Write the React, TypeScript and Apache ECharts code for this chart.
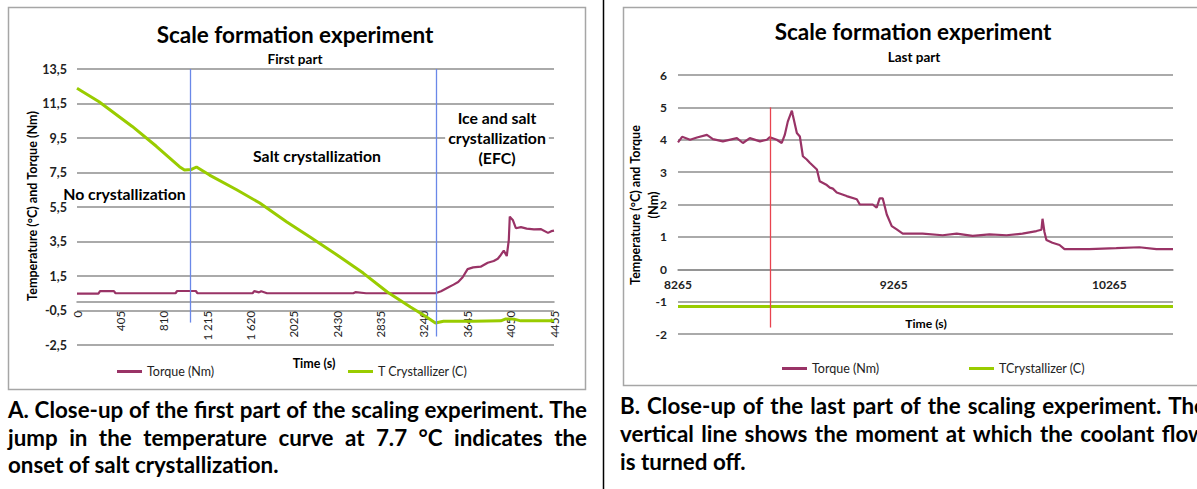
import React, { useEffect, useRef } from 'react';
import * as echarts from 'echarts';

const W = 1197;
const H = 489;

// ---- Part A: first part of the scaling experiment ----
const firstTicks = ['0', '405', '810', '1 215', '1 620', '2025', '2430', '2835', '3240', '3645', '4050', '4455'];

const firstTempTime = [0, 206, 516, 741, 957, 1004, 1069, 1116, 1238, 1491, 1707, 1960, 2176, 2429, 2673, 2898, 3114, 3236, 3348, 3423, 3700, 3958, 4005, 4080, 4145, 4455];
const firstTemp = [12.38, 11.6, 10.17, 9.02, 7.84, 7.65, 7.68, 7.82, 7.35, 6.5, 5.73, 4.63, 3.76, 2.72, 1.67, 0.57, -0.3, -0.76, -1.22, -1.12, -1.12, -1.1, -0.99, -1.0, -1.1, -1.1];

const firstTorqueTime = [0, 200, 215, 345, 360, 920, 935, 1110, 1125, 1640, 1655, 1700, 1720, 1775, 2580, 2600, 2700, 3348, 3400, 3461, 3517, 3560, 3602, 3648, 3700, 3770, 3836, 3892, 3930, 3958, 3986, 4014, 4033, 4042, 4055, 4070, 4099, 4146, 4200, 4268, 4330, 4399, 4430, 4455];
const firstTorque = [0.48, 0.48, 0.62, 0.62, 0.5, 0.5, 0.63, 0.63, 0.5, 0.5, 0.62, 0.55, 0.62, 0.5, 0.5, 0.56, 0.5, 0.5, 0.62, 0.82, 1.0, 1.15, 1.43, 1.9, 2.0, 2.04, 2.27, 2.37, 2.5, 2.72, 2.97, 2.66, 3.6, 4.94, 4.85, 4.75, 4.27, 4.33, 4.25, 4.2, 4.22, 4.0, 4.1, 4.13];

// phase boundaries (s) and where each marker line stops (°C)
const phaseBoundaries = [1060, 3358];
const phaseLineBottoms = [-1.2, -2.0];

// ---- Part B: last part of the scaling experiment ----
const lastTorqueTime = [8265, 8284, 8321, 8353, 8399, 8427, 8473, 8538, 8566, 8598, 8645, 8677, 8691, 8723, 8746, 8760, 8774, 8793, 8797, 8816, 8830, 8844, 8862, 8876, 8909, 8922, 8955, 8969, 8983, 9001, 9047, 9094, 9108, 9168, 9186, 9200, 9214, 9233, 9256, 9279, 9307, 9399, 9492, 9557, 9631, 9709, 9788, 9862, 9927, 9950, 9955, 9964, 9973, 10001, 10034, 10057, 10172, 10297, 10404, 10483, 10560];
const lastTorque = [3.92, 4.09, 4.0, 4.07, 4.15, 4.02, 3.95, 4.05, 3.9, 4.05, 3.95, 4.0, 4.08, 4.0, 3.9, 4.15, 4.56, 4.9, 4.77, 4.21, 4.1, 3.49, 3.39, 3.29, 3.08, 2.72, 2.6, 2.52, 2.49, 2.37, 2.26, 2.16, 2.0, 2.0, 1.9, 2.19, 2.19, 1.69, 1.33, 1.23, 1.1, 1.1, 1.05, 1.1, 1.03, 1.08, 1.05, 1.1, 1.18, 1.22, 1.56, 1.15, 0.9, 0.82, 0.75, 0.62, 0.62, 0.65, 0.68, 0.62, 0.62];

const lastTempTime = [8265, 10560];
const lastTemp = [-1.15, -1.15];

const coolantOffTime = 8691;

// ---- captions ----
const captionA = [
  'A. Close-up of the first part of the scaling experiment. The',
  'jump in the temperature curve at 7.7 °C indicates the',
  'onset of salt crystallization.',
];
const captionB = [
  'B. Close-up of the last part of the scaling experiment. The',
  'vertical line shows the moment at which the coolant flow',
  'is turned off.',
];

const FONT = 'Lato, "Open Sans", sans-serif';
const TORQUE = '#993366';
const LIME = '#99cc00';
const GRIDC = '#8e8e8e';
const FRAME = '#a6a6a6';
const BLUE = '#6a88e8';
const RED = '#e8434f';

const pairs = (xs: number[], ys: number[]) => xs.map((x, i) => [x, ys[i]]);

function txt(x: number, y: number, text: string, size: number, weight: string, extra: any = {}) {
  return {
    type: 'text',
    x,
    y,
    z: 50,
    silent: true,
    ...extra,
    style: {
      text,
      fill: '#000',
      fontSize: size,
      fontWeight: weight,
      fontFamily: FONT,
      align: 'center',
      verticalAlign: 'middle',
      ...(extra.style || {}),
    },
  };
}

// grid geometry
const gridA = { left: 77, top: 69, width: 477, height: 276 };
const gridB = { left: 678, top: 75, width: 495, height: 259 };
const yA = { min: -2.5, max: 13.5, interval: 2 };
const yB = { min: -2, max: 6, interval: 1 };
// shift of the time axis from the grid bottom up to the zero line
const zeroOffset = (g: { height: number }, y: { min: number; max: number }) =>
  -((0 - y.min) / (y.max - y.min)) * g.height;

export default function App() {
  const ref = useRef<HTMLDivElement>(null);

  useEffect(() => {
    const chart = echarts.init(ref.current!, null, { renderer: 'svg' });

    const ctx = document.createElement('canvas').getContext('2d')!;
    const measure = (s: string, size: number) => {
      ctx.font = `bold ${size}px Lato`;
      return ctx.measureText(s).width;
    };
    const colWidth = 579;
    const capSize = (20 * (colWidth - 3)) / measure(captionA[0], 20);

    const capLine = (text: string, x: number, y: number) =>
      txt(x, y, text, capSize, 'bold', { style: { align: 'left' } });

    // justified line: words spread across the given width
    const justified = (text: string, x: number, y: number, width: number) => {
      const words = text.split(' ');
      const widths = words.map((w) => measure(w, capSize));
      const total = widths.reduce((a, b) => a + b, 0);
      const gap = (width - total) / (words.length - 1);
      let cx = x;
      return words.map((w, i) => {
        const el = txt(cx, y, w, capSize, 'bold', { style: { align: 'left' } });
        cx += widths[i] + gap;
        return el;
      });
    };

    const graphics: any[] = [
      { type: 'rect', shape: { x: 8.5, y: 7.5, width: 577, height: 382 }, style: { fill: 'none', stroke: FRAME, lineWidth: 1.5 }, silent: true },
      { type: 'rect', shape: { x: 623.5, y: 7.5, width: 640, height: 378 }, style: { fill: 'none', stroke: FRAME, lineWidth: 1.5 }, silent: true },
      { type: 'line', shape: { x1: 603.5, y1: 0, x2: 603.5, y2: H }, style: { stroke: '#000', lineWidth: 1.5 }, silent: true },

      // titles
      txt(295, 34, 'Scale formation experiment', 22.5, 'bold'),
      txt(295, 59, 'First part', 13.5, 'bold'),
      txt(913, 31, 'Scale formation experiment', 22.5, 'bold'),
      txt(914, 57, 'Last part', 13.5, 'bold'),

      // phase annotations
      txt(124.5, 193, 'No crystallization', 15.8, 'bold'),
      txt(317, 155, 'Salt crystallization', 15.8, 'bold'),
      txt(497, 137, 'Ice and salt\ncrystallization\n(EFC)', 15.8, 'bold', {
        style: { lineHeight: 20, backgroundColor: '#fff', padding: [0, 3] },
      }),

      // axis titles
      txt(32, 206, 'Temperature (°C) and Torque (Nm)', 12.6, 'bold', { rotation: Math.PI / 2 }),
      txt(314, 363, 'Time (s)', 12.5, 'bold'),
      txt(644, 205, 'Temperature (°C) and Torque\n(Nm)', 12.6, 'bold', {
        rotation: Math.PI / 2,
        style: { lineHeight: 18 },
      }),
      txt(926, 323, 'Time (s)', 12.2, 'bold'),

      // captions
      ...justified(captionA[0], 8, 409, colWidth),
      ...justified(captionA[1], 8, 437, colWidth),
      capLine(captionA[2], 8, 464),
      ...justified(captionB[0], 620, 405, 586),
      ...justified(captionB[1], 620, 433, 586),
      capLine(captionB[2], 620, 461),
    ];

    const legendBase = {
      orient: 'horizontal',
      icon: 'rect',
      itemWidth: 25,
      itemHeight: 3,
      selectedMode: false,
      padding: 0,
      textStyle: { fontSize: 12.5, color: '#222', fontFamily: FONT },
    };

    const tickLabel = { fontFamily: FONT, color: '#222', fontWeight: 'bold' };

    const option: any = {
      animation: false,
      backgroundColor: '#fff',
      grid: [gridA, gridB],
      xAxis: [
        {
          type: 'value',
          gridIndex: 0,
          min: 0,
          max: 4455,
          interval: 405,
          offset: zeroOffset(gridA, yA),
          axisLine: { show: true, onZero: false, lineStyle: { color: GRIDC, width: 1.5 } },
          axisTick: { show: false },
          splitLine: { show: false },
          axisLabel: {
            ...tickLabel,
            fontWeight: 'normal',
            fontSize: 11.5,
            rotate: 90,
            margin: 9,
            formatter: (v: number) => firstTicks[Math.round(v / 405)] ?? '',
          },
        },
        {
          type: 'value',
          gridIndex: 1,
          min: 8265,
          max: 10560,
          interval: 1000,
          offset: zeroOffset(gridB, yB),
          axisLine: { show: true, onZero: false, lineStyle: { color: GRIDC, width: 1.5 } },
          axisTick: { show: false },
          splitLine: { show: false },
          axisLabel: {
            ...tickLabel,
            fontSize: 12,
            margin: 9,
            showMaxLabel: false,
            formatter: (v: number) => String(v),
          },
        },
      ],
      yAxis: [
        {
          type: 'value',
          gridIndex: 0,
          ...yA,
          axisLine: { show: false },
          axisTick: { show: false },
          splitLine: { show: true, lineStyle: { color: GRIDC, width: 1.5 } },
          axisLabel: {
            ...tickLabel,
            fontSize: 12.5,
            margin: 10,
            formatter: (v: number) => String(v).replace('.', ','),
          },
        },
        {
          type: 'value',
          gridIndex: 1,
          ...yB,
          axisLine: { show: false },
          axisTick: { show: false },
          splitLine: { show: true, lineStyle: { color: GRIDC, width: 1.5 } },
          axisLabel: { ...tickLabel, fontSize: 12, margin: 11 },
        },
      ],
      legend: [
        { ...legendBase, data: ['Torque (Nm)'], left: 117, top: 365 },
        { ...legendBase, data: ['T Crystallizer (C)'], left: 348, top: 365 },
        { ...legendBase, data: ['Torque (Nm)'], left: 782, top: 362 },
        { ...legendBase, data: ['TCrystallizer (C)'], left: 969, top: 362 },
      ],
      series: [
        {
          type: 'line',
          name: 'Torque (Nm)',
          xAxisIndex: 0,
          yAxisIndex: 0,
          data: pairs(firstTorqueTime, firstTorque),
          symbol: 'none',
          lineStyle: { color: TORQUE, width: 2.2 },
          itemStyle: { color: TORQUE },
        },
        {
          type: 'line',
          name: 'T Crystallizer (C)',
          xAxisIndex: 0,
          yAxisIndex: 0,
          data: pairs(firstTempTime, firstTemp),
          symbol: 'none',
          lineStyle: { color: LIME, width: 3 },
          itemStyle: { color: LIME },
          markLine: {
            silent: true,
            symbol: 'none',
            label: { show: false },
            lineStyle: { color: BLUE, width: 1.3, type: 'solid' },
            data: phaseBoundaries.map((t, i) => [
              { coord: [t, 13.5] },
              { coord: [t, phaseLineBottoms[i]] },
            ]),
          },
        },
        {
          type: 'line',
          name: 'Torque (Nm)',
          xAxisIndex: 1,
          yAxisIndex: 1,
          data: pairs(lastTorqueTime, lastTorque),
          symbol: 'none',
          lineStyle: { color: TORQUE, width: 2.2 },
          itemStyle: { color: TORQUE },
          markLine: {
            silent: true,
            symbol: 'none',
            label: { show: false },
            lineStyle: { color: RED, width: 1.3, type: 'solid' },
            data: [[{ coord: [coolantOffTime, 5] }, { coord: [coolantOffTime, -1.8] }]],
          },
        },
        {
          type: 'line',
          name: 'TCrystallizer (C)',
          xAxisIndex: 1,
          yAxisIndex: 1,
          data: pairs(lastTempTime, lastTemp),
          symbol: 'none',
          lineStyle: { color: LIME, width: 3 },
          itemStyle: { color: LIME },
        },
      ],
      graphic: { elements: graphics },
    };

    chart.setOption(option);
    return () => chart.dispose();
  }, []);

  return (
    <div
      ref={ref}
      style={{ position: 'absolute', left: 0, top: 0, width: W, height: H, background: '#fff' }}
    />
  );
}
